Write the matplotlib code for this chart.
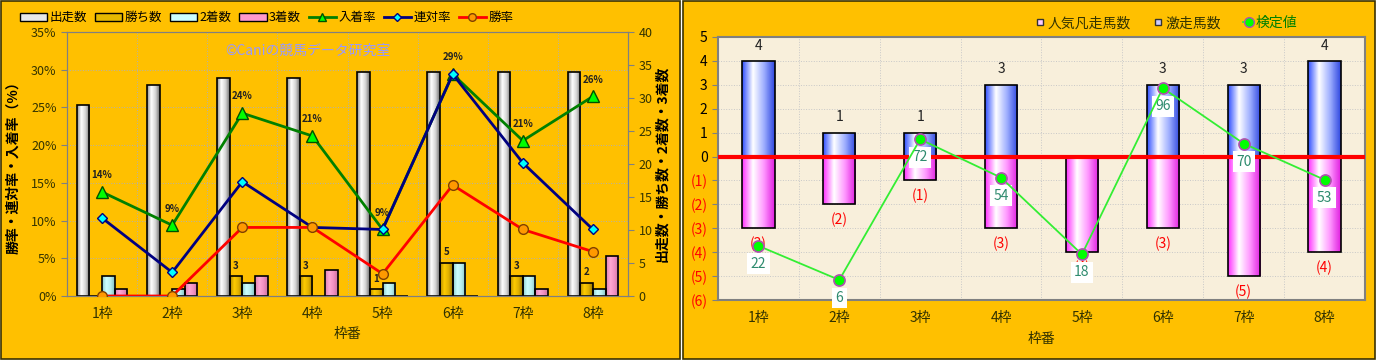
import numpy as np
import matplotlib
matplotlib.use('Agg')
import matplotlib.pyplot as plt
from matplotlib.colors import LinearSegmentedColormap
from matplotlib.patches import Rectangle, Patch
from matplotlib.lines import Line2D
from matplotlib.transforms import blended_transform_factory

plt.rcParams['font.family'] = ['Noto Sans CJK JP', 'DejaVu Sans']

# --- data -------------------------------------------------------------
waku = ['1枠', '2枠', '3枠', '4枠', '5枠', '6枠', '7枠', '8枠']

starts = [29, 32, 33, 33, 34, 34, 34, 34]      # 出走数
wins = [0, 0, 3, 3, 1, 5, 3, 2]               # 勝ち数
seconds = [3, 1, 2, 0, 2, 5, 3, 1]            # 2着数
thirds = [1, 2, 3, 4, 0, 0, 1, 6]             # 3着数

win_rate = [0.0, 0.0, 9.09, 9.09, 2.94, 14.71, 8.82, 5.88]          # 勝率
rentai_rate = [10.34, 3.13, 15.15, 9.09, 8.82, 29.41, 17.65, 8.82]  # 連対率
place_rate = [13.79, 9.38, 24.24, 21.21, 8.82, 29.41, 20.59, 26.47] # 入着率

gekisou = [4, 1, 1, 3, 0, 3, 3, 4]            # 激走馬数
bonsou = [-3, -2, -1, -3, -4, -3, -5, -4]     # 人気凡走馬数
kentei = [22, 6, 72, 54, 18, 96, 70, 53]      # 検定値

ORANGE = '#ffc000'


def grad_fill(ax, bars, colors):
    """fill each bar with a horizontal (cylinder-like) gradient"""
    cmap = LinearSegmentedColormap.from_list('g', colors)
    img = np.linspace(0, 1, 64).reshape(1, -1)
    for b in bars:
        h = b.get_height()
        if h == 0:
            continue
        x0, y0 = b.get_x(), b.get_y()
        im = ax.imshow(img, cmap=cmap, aspect='auto', interpolation='bilinear',
                       extent=[x0, x0 + b.get_width(), min(y0, y0 + h), max(y0, y0 + h)],
                       zorder=b.get_zorder() - 0.1)
        im.set_clip_path(b)


fig = plt.figure(figsize=(13.76, 3.6), dpi=100)
fig.patches.append(Rectangle((0.001, 0.004), 0.4935, 0.992, transform=fig.transFigure,
                             facecolor=ORANGE, edgecolor='#3c3200', lw=1.2, zorder=-5))
fig.patches.append(Rectangle((0.4964, 0.004), 0.5026, 0.992, transform=fig.transFigure,
                             facecolor=ORANGE, edgecolor='#3c3200', lw=1.2, zorder=-5))

x = np.arange(1, 9)

# --- left chart -------------------------------------------------------
ax = fig.add_axes([0.0487, 0.1778, 0.4077, 0.7333])
axc = ax.twinx()
ax.set_zorder(axc.get_zorder() + 1)
ax.patch.set_visible(False)
axc.patch.set_facecolor('#ffffcc')

w = 0.18
b_start = axc.bar(x - 1.5 * w, starts, w, facecolor='none', edgecolor='black', lw=1.2, zorder=2)
b_win = axc.bar(x - 0.5 * w, wins, w, facecolor='none', edgecolor='black', lw=1.2, zorder=2)
b_2nd = axc.bar(x + 0.5 * w, seconds, w, facecolor='none', edgecolor='black', lw=1.2, zorder=2)
b_3rd = axc.bar(x + 1.5 * w, thirds, w, facecolor='none', edgecolor='black', lw=1.2, zorder=2)
grad_fill(axc, b_start, ['#8c8c8c', '#ffffff', '#d4d4d4', '#6e6e6e'])
grad_fill(axc, b_win, ['#b08800', '#ffcc00', '#e0b000', '#9a7400'])
grad_fill(axc, b_2nd, ['#8ccccc', '#ccffff', '#b8eeee', '#80c0c0'])
grad_fill(axc, b_3rd, ['#e080b0', '#ffa8d4', '#f090c0', '#d070a0'])

axc.set_ylim(0, 40)
axc.set_yticks(range(0, 41, 5))
ax.set_ylim(0, 35)
ax.set_yticks(range(0, 36, 5))
ax.set_yticklabels([f'{t}%' for t in range(0, 36, 5)])
ax.set_xlim(0.5, 8.5)
axc.set_xlim(0.5, 8.5)
axc.bar_label(b_win, labels=[str(v) if v else '' for v in wins], padding=4,
              fontsize=7, fontweight='bold', color='#222222')

# grid (drawn under the bars)
tr = blended_transform_factory(axc.transAxes, ax.transData)
for p in range(5, 35, 5):
    axc.plot([0, 1], [p, p], transform=tr, color='#b0b0b0', lw=0.7, ls=':', zorder=0.5)
for bnd in np.arange(1.5, 8.5, 1):
    axc.axvline(bnd, color='#b0b0b0', lw=0.7, ls=':', zorder=0.5)

ax.plot(x, place_rate, color='#008000', lw=2, marker='^', ms=8, mfc='#00ff00', mec='#005000',
        label='入着率', zorder=4)
ax.plot(x, rentai_rate, color='#000080', lw=2, marker='D', ms=5.5, mfc='#00ffff', mec='#000080',
        label='連対率', zorder=4)
ax.plot(x, win_rate, color='#ff0000', lw=2, marker='o', ms=7, mfc='#ff9900', mec='#804000',
        label='勝率', zorder=4)
for xi, v in zip(x, place_rate):
    ax.annotate(f'{v:.0f}%', (xi, v), xytext=(0, 12), textcoords='offset points',
                ha='center', va='center', fontsize=7, fontweight='bold', color='#222222')

ax.text(0.43, 0.93, '©Caniの競馬データ研究室', transform=ax.transAxes, ha='center', va='center',
        fontsize=10, color='#9999ff')

ax.set_xticks(x)
ax.set_xticklabels(waku)
ax.tick_params(axis='x', length=0, pad=8, labelsize=10, labelcolor='#333300')
ax.tick_params(axis='y', length=4, color='#808080', labelsize=9, labelcolor='#333300')
axc.tick_params(axis='y', length=4, color='#808080', labelsize=9, labelcolor='#333300')
axc.tick_params(axis='x', length=0)
ax.set_xlabel('枠番', fontsize=10, color='#333300', labelpad=4)
ax.set_ylabel('勝率・連対率・入着率（%）', fontsize=10, fontweight='bold', labelpad=8)
axc.set_ylabel('出走数・勝ち数・2着数・3着数', fontsize=10, fontweight='bold', labelpad=2)
for a in (ax, axc):
    for s in a.spines.values():
        s.set_color('#808080')

h_left = [Patch(facecolor='#e8e8e8', edgecolor='black', label='出走数'),
          Patch(facecolor='#e6b800', edgecolor='black', label='勝ち数'),
          Patch(facecolor='#ccffff', edgecolor='black', label='2着数'),
          Patch(facecolor='#ff99cc', edgecolor='black', label='3着数'),
          Line2D([], [], color='#008000', lw=2, marker='^', ms=6, mfc='#00ff00', mec='#005000', label='入着率'),
          Line2D([], [], color='#000080', lw=2, marker='D', ms=4.5, mfc='#00ffff', mec='#000080', label='連対率'),
          Line2D([], [], color='#ff0000', lw=2, marker='o', ms=5.5, mfc='#ff9900', mec='#804000', label='勝率')]
fig.legend(handles=h_left, loc='upper left', bbox_to_anchor=(0.006, 1.0), ncol=7, frameon=False,
           fontsize=9, handlelength=2.2, handleheight=0.6, columnspacing=0.6, handletextpad=0.2)

# --- right chart ------------------------------------------------------
ax3 = fig.add_axes([0.5218, 0.1667, 0.4702, 0.7306])
ax3.set_facecolor('#f8efdb')
bp = ax3.bar(x, gekisou, 0.4, facecolor='none', edgecolor='black', lw=1.2, zorder=2)
bn = ax3.bar(x, bonsou, 0.4, facecolor='none', edgecolor='black', lw=1.2, zorder=2)
grad_fill(ax3, bp, ['#3050ff', '#ffffff', '#a0b0ff', '#3048e0'])
grad_fill(ax3, bn, ['#ff30ff', '#ffffff', '#ff99ff', '#e020e0'])
ax3.axhline(0, color='#ff0000', lw=3, zorder=3)
ax3.set_xlim(0.5, 8.5)
ax3.set_ylim(-6, 5)
ax3.bar_label(bp, labels=[str(v) if v else '' for v in gekisou], padding=6,
              fontsize=10, color='#222222')
ax3.bar_label(bn, labels=[f'({-v})' for v in bonsou], padding=6,
              fontsize=10, color='#ff0000')
yt = list(range(-6, 6))
ax3.set_yticks(yt, labels=[f'({-t})' if t < 0 else str(t) for t in yt])
for lab, t in zip(ax3.get_yticklabels(), yt):
    if t < 0:
        lab.set_color('#ff0000')
for t in yt:
    ax3.axhline(t, color='#c8c8c8', lw=0.7, ls=':', zorder=0.5)
for bnd in np.arange(1.5, 8.5, 1):
    ax3.axvline(bnd, color='#c8c8c8', lw=0.7, ls=':', zorder=0.5)
ax3.set_xticks(x)
ax3.set_xticklabels(waku)
ax3.tick_params(axis='x', length=0, pad=8, labelsize=10, labelcolor='#333300')
ax3.tick_params(axis='y', length=4, color='#808080', labelsize=10)
ax3.set_xlabel('枠番', fontsize=10, color='#333300', labelpad=5)
for s in ax3.spines.values():
    s.set_color('#808080')
    s.set_linewidth(1.5)

ax4 = ax3.twinx()
ax4.set_ylim(-3.4, 120)
ax4.axis('off')
ax4.plot(x, kentei, color='#33ee33', lw=1.3, marker='o', ms=8, mfc='#00ff00', mec='#b050b0',
         mew=1.2, zorder=5)
for xi, v in zip(x, kentei):
    ax4.annotate(str(v), (xi, v), xytext=(0, -13), textcoords='offset points', ha='center',
                 va='center', color='#2e8b6e', fontsize=10,
                 bbox=dict(boxstyle='square,pad=0.25', fc='white', ec='none'))

h_right = [Line2D([], [], marker='s', ls='none', ms=5, mfc='#ffccff', mec='#333333', label='人気凡走馬数'),
           Line2D([], [], marker='s', ls='none', ms=5, mfc='#ccccff', mec='#333333', label='激走馬数'),
           Line2D([], [], color='#33ee33', lw=1.3, marker='o', ms=7, mfc='#00ff00', mec='#b050b0',
                  label='検定値')]
leg = fig.legend(handles=h_right, loc='upper left', bbox_to_anchor=(0.743, 0.99), ncol=3,
                 frameon=False, fontsize=10, handlelength=0.8, handletextpad=0.1, columnspacing=1.6)
for txt, c in zip(leg.get_texts(), ['#333300', '#333300', '#008000']):
    txt.set_color(c)

fig.savefig('out.png', dpi=100)
